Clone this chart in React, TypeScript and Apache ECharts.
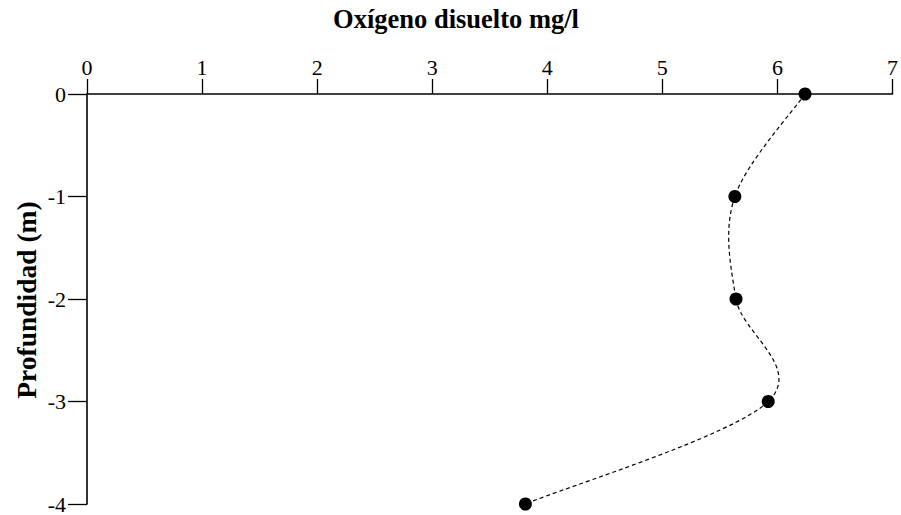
import React, { useEffect, useRef } from "react";
import * as echarts from "echarts";

const depths = [0, -1, -2, -3, -4];
const oxygen = [6.24, 5.63, 5.64, 5.92, 3.81];
const xTicks = [0, 1, 2, 3, 4, 5, 6, 7];
const titleText = "Oxígeno disuelto mg/l";
const yName = "Profundidad (m)";

const FONT = "'Liberation Serif', 'Times New Roman', serif";

export default function App() {
  const ref = useRef<HTMLDivElement>(null);
  useEffect(() => {
    if (!ref.current) return;
    const chart = echarts.init(ref.current, undefined, { renderer: "svg" });
    const points = depths.map((d, i) => [oxygen[i], d]);
    const segments = points.slice(0, -1).map((_, i) => [i]);

    const renderSegment = (params: any, api: any) => {
      const i = params.dataIndex;
      const n = points.length;
      const c = (k: number) => api.coord(points[Math.max(0, Math.min(n - 1, k))]);
      const p0 = c(i - 1);
      const p1 = c(i);
      const p2 = c(i + 1);
      const p3 = c(i + 2);
      // Catmull-Rom tangents (screen space)
      const t1 = i === 0 ? [(p2[0] - p1[0]) / 2, (p2[1] - p1[1]) / 2] : [(p2[0] - p0[0]) / 2, (p2[1] - p0[1]) / 2];
      const t2 = i + 1 === n - 1 ? [(p2[0] - p1[0]) / 2, (p2[1] - p1[1]) / 2] : [(p3[0] - p1[0]) / 2, (p3[1] - p1[1]) / 2];
      return {
        type: "bezierCurve",
        shape: {
          x1: p1[0],
          y1: p1[1],
          cpx1: p1[0] + t1[0] / 3,
          cpy1: p1[1] + t1[1] / 3,
          cpx2: p2[0] - t2[0] / 3,
          cpy2: p2[1] - t2[1] / 3,
          x2: p2[0],
          y2: p2[1],
        },
        style: { stroke: "#000", fill: null, lineWidth: 1.2, lineDash: [4, 3] },
      };
    };

    chart.setOption({
      animation: false,
      backgroundColor: "#ffffff",
      grid: { left: 87, right: 4, top: 94, bottom: 10.5, containLabel: false },
      graphic: [
        {
          type: "text",
          x: 456,
          y: 19,
          style: {
            text: titleText,
            font: `bold 26.5px ${FONT}`,
            fill: "#000",
            align: "center",
            verticalAlign: "middle",
          },
        },
        {
          type: "text",
          x: 26,
          y: 300,
          rotation: Math.PI / 2,
          style: {
            text: yName,
            font: `bold 27.5px ${FONT}`,
            fill: "#000",
            align: "center",
            verticalAlign: "middle",
          },
        },
      ],
      xAxis: {
        type: "value",
        position: "top",
        min: xTicks[0],
        max: xTicks[xTicks.length - 1],
        interval: 1,
        splitLine: { show: false },
        axisLine: { show: true, onZero: false, lineStyle: { color: "#000", width: 1.6 } },
        axisTick: { show: true, inside: false, length: 15, lineStyle: { color: "#000", width: 1.3 } },
        axisLabel: {
          show: true,
          margin: 16,
          color: "#000",
          fontFamily: FONT,
          fontSize: 22,
        },
      },
      yAxis: {
        type: "value",
        min: -4,
        max: 0,
        interval: 1,
        splitLine: { show: false },
        axisLine: { show: true, onZero: false, lineStyle: { color: "#000", width: 1.6 } },
        axisTick: { show: true, inside: false, length: 19, lineStyle: { color: "#000", width: 1.3 } },
        axisLabel: {
          show: true,
          margin: 21,
          color: "#000",
          fontFamily: FONT,
          fontSize: 22,
        },
      },
      series: [
        {
          type: "custom",
          name: "curve",
          data: segments,
          renderItem: renderSegment,
          clip: false,
          silent: true,
          z: 2,
        },
        {
          type: "scatter",
          name: "Oxígeno",
          data: points,
          symbol: "circle",
          symbolSize: 13,
          itemStyle: { color: "#000", opacity: 1 },
          clip: false,
          z: 3,
        },
      ],
    });
    return () => chart.dispose();
  }, []);
  return <div ref={ref} style={{ width: 901, height: 515, position: "absolute", left: 0, top: 0 }} />;
}
